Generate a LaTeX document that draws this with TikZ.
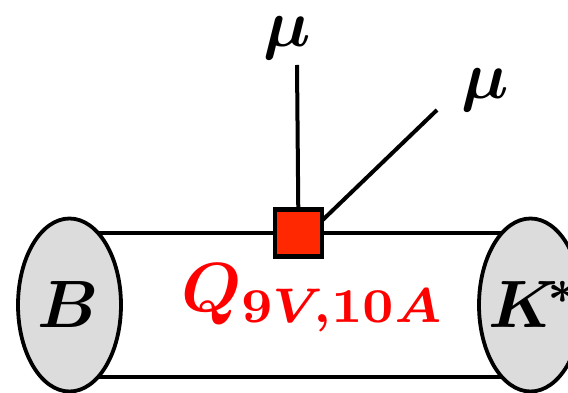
\documentclass[tikz,border=0pt]{standalone}
\usepackage{amsmath,bm}
\usetikzlibrary{shapes.geometric}
\definecolor{blobgray}{RGB}{220,220,220}
\definecolor{vertred}{RGB}{255,40,0}
\tikzset{
  blob/.style={ellipse,draw=black,line width=3.8pt,fill=blobgray,minimum width=103pt,minimum height=173pt,inner sep=0pt},
  vertexbox/.style={rectangle,draw=black,line width=4.2pt,fill=vertred,minimum size=47pt,inner sep=0pt},
  tube/.style={line width=4.6pt},
  leg/.style={line width=4pt},
  big/.style={scale=6.7,inner sep=0pt,outer sep=0pt}
}
\begin{document}
\begin{tikzpicture}[x=1pt,y=1pt]
\useasboundingbox (0,0) rectangle (568,393);
\clip (0,0) rectangle (568,393);
\coordinate (Lc) at (69.5,88);
\coordinate (Rc) at (530.5,88);
\coordinate (Sc) at (298.5,160);
\coordinate (m1end) at (297,328);
\coordinate (m2end) at (437,283);
% tube
\draw[tube] ([yshift=72pt]Lc) -- ([yshift=72pt]Rc);
\draw[tube] ([yshift=-72pt]Lc) -- ([yshift=-72pt]Rc);
% legs
\draw[leg] (Sc) -- (m1end);
\draw[leg] ([xshift=20pt,yshift=9pt]Sc) -- (m2end);
% blobs and vertex
\node[blob] (L) at (Lc) {};
\node[blob] (R) at (Rc) {};
\node[vertexbox] (S) at (Sc) {};
% labels
\node[big,anchor=base] (Bl) at (68,65) {$\bm{B}$};
\node[big,anchor=base west] (Kl) at (488,65) {$\bm{K^{\!*}}$};
\node[big,scale=6.95/6.7,anchor=base west,text=red] (Ql) at (181,81) {$\bm{Q_{9V,10A}}$};
\node[big,anchor=base] (mu1) at (287,346) {$\bm{\mu}$};
\node[big,anchor=base] (mu2) at (485,294) {$\bm{\mu}$};
\end{tikzpicture}
\end{document}
